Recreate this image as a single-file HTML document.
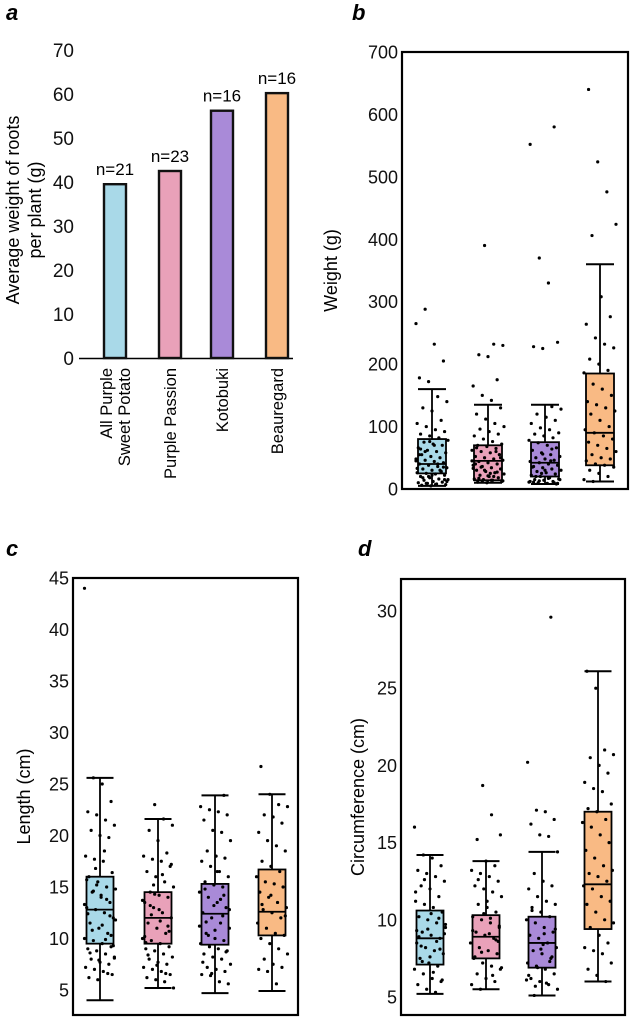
<!DOCTYPE html>
<html><head><meta charset="utf-8">
<style>
body{margin:0;background:#fff;}
svg{display:block;font-family:"Liberation Sans",Arial,sans-serif;}
</style></head>
<body>
<svg id="fig" width="630" height="1018" viewBox="0 0 630 1018" xmlns="http://www.w3.org/2000/svg"></svg>
<script>
// ---------- data ----------
const groups = ["All Purple Sweet Potato","Purple Passion","Kotobuki","Beauregard"];
const colors = ["#a9d9e8","#e9a1b9","#a98ad8","#f9ba84"];
const barValues = [39.5, 42.5, 56.2, 60.2];
const barLabels = ["n=21","n=23","n=16","n=16"];
const aTicks = [0,10,20,30,40,50,60,70];

const wTicks = [0,100,200,300,400,500,600,700];
const wStats = [[5,25,40,80,160],[10,14,45,70,135],[8,20,42,75,135],[12,38,90,185,360]];
const wPts = [
 [265,288,232,205,178,172,148,140,130,125,110,105,100,95,92,88,85,82,78,75,72,70,66,62,60,58,55,52,50,48,46,44,42,40,38,36,34,32,30,28,26,25,24,22,20,18,16,15,14,12,11,10,9,8,7,6,5,30,45,60,70,35,55,20,40,12,18,22,28,33,9,7,15,64,76],
 [390,232,230,215,212,175,165,150,142,130,120,112,105,100,96,92,88,85,80,76,72,70,68,65,62,60,58,55,52,50,48,46,44,42,40,38,36,34,32,30,28,26,24,22,20,18,16,15,14,12,11,10,60,45,35,25,55,40,30,20,13,17,21,27,33,12,14,50,66],
 [580,552,370,330,235,228,225,132,128,120,115,110,105,98,95,90,88,85,82,78,74,70,66,62,58,55,52,50,48,46,44,42,40,38,36,34,32,30,28,26,24,22,20,18,16,15,14,12,11,10,9,8,35,25,45,15,20,30,10,12,13,17,9,11,56,64],
 [640,524,476,424,406,308,276,264,242,232,226,208,200,190,186,168,160,150,140,135,130,125,120,110,100,95,90,85,80,75,70,65,60,55,50,48,45,40,38,35,30,25,20,15,12]
];

const lTicks = [5,10,15,20,25,30,35,40,45];
const lStats = [[4,9.5,12.8,16,25.6],[5.2,9.5,12,14.5,21.6],[4.7,9.4,12.4,15.3,23.9],[4.9,10.3,12.6,16.7,24]];
const lPts = [
 [44,25.6,25,23.3,22.3,22,21.5,21,20.5,20,19.8,18,17.7,17.5,16.4,16,15.5,15,14.8,14.5,14,13.5,13,12.8,12.5,12,11.5,11,10.5,10,9.8,9.5,9.2,9,8.8,8.5,8.2,8,7.7,7.5,7.2,7,6.8,6.5,6.2,6,13.8,11.8,10.8,14.2,12.2,15.7,16.8,18.5,9.3,8.6,7.9,6.6,13.3,14.6,11.3,10.3,12.4,15.2,9.9,8.1],
 [23,21.6,21,20.5,19.5,18.3,18,17.7,17.5,17,16.5,16,15.5,15,14.5,14.2,14,13.5,13,12.5,12,11.5,11,10.5,10,9.8,9.5,9.2,9,8.8,8.5,8.2,8,7.7,7.5,7.2,7,6.8,6.5,6.2,6,5.8,5.2,13.2,12.8,11.2,10.2,15.2,16.2,17.2,8.4,7.4,6.6,13.7,12.3,11.7,10.7,9.6,14.3],
 [23.9,22.8,22.5,22.3,22,21.5,20.5,20.3,19.5,18.5,18,17.8,17.5,17,16.5,16,15.5,15.2,15,14.5,14,13.5,13,12.5,12,11.5,11,10.5,10,9.8,9.5,9.2,9,8.8,8.5,8.2,8,7.5,7.2,7,6.8,6.5,6.4,5.8,5.6,14.8,13.2,12.2,11.2,10.3,16.5,8.7,7.7,6.6,13.8,12.8,11.6,10.8,14.2],
 [26.7,24,23,22.8,22,21.8,21.2,20.3,19.5,19,18.5,17.5,17,16.5,16,15.5,15.3,15,14.5,14,13.5,13,12.8,12.5,12,11.5,11,10.5,10.3,10,9.5,9,8.5,8,7.5,7.2,7,6.8,5.6,12.2,13.3,14.2]
];

const cTicks = [5,10,15,20,25,30];
const cStats = [[5.2,7.1,8.8,10.6,14.2],[5.5,7.5,8.9,10.3,13.8],[5.1,6.9,8.5,10.2,14.4],[6,9.4,12.3,17,26.1]];
const cPts = [
 [16,14.2,14,13.5,13.2,13,12.8,12.5,12.2,12,11.5,11.2,11,10.8,10.5,10.2,10,9.8,9.5,9.2,9,8.8,8.5,8.2,8,7.8,7.5,7.2,7,6.8,6.5,6.2,6,5.8,5.5,5.3,9.1,8.3,7.6,10.1,11.8,12.6,6.6,6.1,8.9,9.4,8.6,9.7,7.3,10.4,8.1,9.3],
 [18.7,16.8,15.5,15.2,13.8,13.5,13.2,13,12.8,12.5,12.2,12,11.8,11.5,11,10.8,10.5,10.2,10,9.8,9.5,9.2,9,8.8,8.5,8.2,8,7.8,7.5,7.2,7,6.8,6.5,6.2,6,5.8,5.5,9.1,8.6,7.6,10.4,6.4,6.9,12.6,11.2,8.7,9.3,7.9,10.1,9.6],
 [29.6,20.2,17.1,17,16.5,16.2,15.5,15.4,14.4,13,12.5,12.2,12,11.5,11.2,11,10.8,10.5,10.2,10,9.8,9.5,9.2,9,8.8,8.5,8.2,8,7.8,7.5,7.2,7,6.8,6.5,6.2,6,5.8,5.5,5.1,8.4,7.6,6.4,6.9,5.9,9.4,10.6,8.1,7.3,6.1,5.7,9.1],
 [26.1,25,21,20.7,20.5,20,19.5,18.9,18.5,18.3,17.5,17.2,17,16.5,16.3,16,15.5,15,14.5,14,13.5,13.2,13,12.8,12.5,12.2,12,11.5,11.2,11,10.5,10,9.8,9.5,9,8.5,8.2,8,7.8,7.2,6.8,6.4,6]
];

// ---------- helpers ----------
const svg = document.getElementById('fig');
const NS = 'http://www.w3.org/2000/svg';
function mk(tag, attrs, parent, text){
  const e = document.createElementNS(NS, tag);
  for (const k in attrs) e.setAttribute(k, attrs[k]);
  if (text !== undefined) e.textContent = text;
  (parent||svg).appendChild(e);
  return e;
}
function scale(d0,d1,r0,r1){ return v => r0 + (v-d0)/(d1-d0)*(r1-r0); }

// ---------- panel letters ----------
[["a",6,20],["b",352,20],["c",6,556],["d",358,556]].forEach(p=>{
  const t = mk('text',{x:p[1],y:p[2],'font-size':22,'font-weight':'bold','font-style':'italic'},svg,p[0]);
  
  
});

// ---------- panel a ----------
(function(){
  const g = mk('g',{});
  
  
  const y = scale(0,70,358,50);
  const cx = [115,170,222,277];
  aTicks.forEach(t=>{
    const tx = mk('text',{x:74,y:y(t)+7,'font-size':19,'text-anchor':'end',fill:'#111'},g,String(t));
    
    
  });
  const ax = mk('line',{x1:79,x2:293,y1:358.5,y2:358.5,stroke:'#000','stroke-width':1.5},g);
  
  
  const tt = mk('text',{transform:'translate(19,210) rotate(-90)','font-size':18,'text-anchor':'middle'},g,'Average weight of roots');
  
  
  const tt2 = mk('text',{transform:'translate(41,210) rotate(-90)','font-size':18,'text-anchor':'middle'},g,'per plant (g)');
  
  
  barValues.forEach((v,i)=>{
    const r = mk('rect',{x:cx[i]-11,y:y(v),width:22,height:y(0)-y(v),fill:colors[i],stroke:'#111','stroke-width':2.4},g);
    
    
    const n = mk('text',{x:cx[i],y:y(v)-9,'font-size':17,'text-anchor':'middle'},g,barLabels[i]);
    
    
  });
  const lab = [["All Purple","Sweet Potato"],["Purple Passion"],["Kotobuki"],["Beauregard"]];
  lab.forEach((L,i)=>{
    L.forEach((s,j)=>{
      const off = L.length===2 ? (j===0?-9:9) : 0;
      const t = mk('text',{transform:`translate(${cx[i]+off+6},368) rotate(-90)`,'font-size':16.5,'text-anchor':'end'},g,s);
      
      
    });
  });
})();

// ---------- boxplot panel ----------
function boxPanel(name, fr, dom, ticks, stats, pts, cx, bw, title, titleX, tickFs){
  const g = mk('g',{});
  
  
  const y = scale(dom[0],dom[1],dom[2],dom[3]);
  const f = mk('rect',{x:fr[0],y:fr[1],width:fr[2]-fr[0],height:fr[3]-fr[1],fill:'none',stroke:'#000','stroke-width':2.2},g);
  
  
  ticks.forEach(t=>{
    const tx = mk('text',{x:fr[0]-4,y:y(t)+6.5,'font-size':tickFs,'text-anchor':'end',fill:'#111'},g,String(t));
    
    
  });
  const tt = mk('text',{transform:`translate(${titleX},${(fr[1]+fr[3])/2}) rotate(-90)`,'font-size':18,'text-anchor':'middle'},g,title);
  
  
  stats.forEach((s,i)=>{
    const c = cx[i];
    const bx = mk('g',{},g);
    
    
    mk('line',{x1:c,x2:c,y1:y(s[0]),y2:y(s[4]),stroke:'#000','stroke-width':1.8},bx);
    mk('line',{x1:c-bw/2,x2:c+bw/2,y1:y(s[4]),y2:y(s[4]),stroke:'#000','stroke-width':2},bx);
    mk('line',{x1:c-bw/2,x2:c+bw/2,y1:y(s[0]),y2:y(s[0]),stroke:'#000','stroke-width':2},bx);
    mk('rect',{x:c-bw/2,y:y(s[3]),width:bw,height:y(s[1])-y(s[3]),fill:colors[i],stroke:'#000','stroke-width':1.8},bx);
    mk('line',{x1:c-bw/2,x2:c+bw/2,y1:y(s[2]),y2:y(s[2]),stroke:'#000','stroke-width':1.8},bx);
    pts[i].forEach((v,k)=>{
      const j = (((k*37+i*11)%29)/28 - 0.5) * (bw+4);
      const d = mk('circle',{cx:c+j,cy:y(v),r:1.6,fill:'#000'},bx);
      
      
    });
  });
}
boxPanel('panel-b-weight',[402,52,628,489],[0,700,489,52],wTicks,wStats,wPts,[432,488,545,600],28,'Weight (g)',337,18);
boxPanel('panel-c-length',[73,578,298,1015],[5,45,990,578],lTicks,lStats,lPts,[100,158,215,272],27,'Length (cm)',30,18);
boxPanel('panel-d-circumference',[401,579,625,1015],[5,30,997,611],cTicks,cStats,cPts,[430,486,542,598],27,'Circumference (cm)',364,18);
</script>
</body></html>
